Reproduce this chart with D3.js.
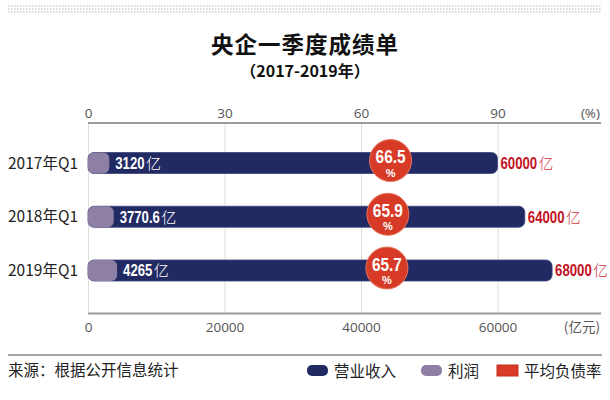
<!DOCTYPE html>
<html>
<head>
<meta charset="utf-8">
<script src="https://cdn.jsdelivr.net/npm/d3@7"></script>
<style>
  html, body { margin: 0; padding: 0; background: #fff; }
  svg { display: block; }
</style>
</head>
<body>
<svg id="chart" width="610" height="400"></svg>
<script>
// ---- data ----
const categories = ["2017年Q1", "2018年Q1", "2019年Q1"];
const revenue = [60000, 64000, 68000];      // 营业收入 (亿元)
const profit = [3120, 3770.6, 4265];        // 利润 (亿元)
const debtRatio = [66.5, 65.9, 65.7];       // 平均负债率 (%)
const valueTicks = [0, 20000, 40000, 60000];
const pctTicks = [0, 30, 60, 90];
const legendItems = ["营业收入", "利润", "平均负债率"];

// ---- style ----
const NAVY = "#222a63", PURPLE = "#8e80a4", RED = "#d73b27", LABEL_RED = "#c3121f";
const CJK = "'Noto Sans CJK SC', 'Noto Sans', sans-serif";
const NUMF = "'Liberation Sans', Arial, sans-serif";
const TICKF = "'Open Sans', 'Noto Sans', sans-serif";

const svg = d3.select("#chart");

// condensed number: text drawn at origin, group scaled horizontally; returns drawn width
function condensedText(parent, tx, ty, str, size, fill, factor, anchor) {
  const g = parent.append("g").attr("transform", `translate(${tx},${ty}) scale(${factor},1)`);
  const t = g.append("text").attr("x", 0).attr("y", 0)
    .attr("text-anchor", anchor || "start")
    .attr("font-family", NUMF).attr("font-weight", 700).attr("font-size", size)
    .attr("fill", fill).text(str);
  return t.node().getComputedTextLength() * factor;
}

// top dotted band
[6, 9, 12].forEach(yy => {
  svg.append("line").attr("x1", 8).attr("x2", 602).attr("y1", yy).attr("y2", yy)
    .attr("stroke", "#b5b5b5").attr("stroke-width", 1.2).attr("stroke-dasharray", "1.5,1.5");
});

// title
svg.append("text").attr("x", 305).attr("y", 53).attr("text-anchor", "middle")
  .attr("font-family", CJK).attr("font-weight", 700).attr("font-size", 22.5)
  .attr("letter-spacing", 1).attr("fill", "#111").text("央企一季度成绩单");
svg.append("text").attr("x", 305).attr("y", 77).attr("text-anchor", "middle")
  .attr("font-family", CJK).attr("font-weight", 700).attr("font-size", 16)
  .attr("fill", "#111").text("（2017-2019年）");

// scales
const x = d3.scaleLinear().domain([0, 60000]).range([88, 497.5]);
const xp = d3.scaleLinear().domain([0, 90]).range([88, 497.5]);
const y = d3.scalePoint().domain(categories).range([163, 270.5]);
const topY = 123, botY = 313.5, lineEnd = 601;
const barH = 21;

// gridlines
const grid = svg.append("g").attr("transform", `translate(0,${botY})`)
  .call(d3.axisBottom(x).tickValues(valueTicks).tickSize(-(botY - topY)).tickFormat(""));
grid.select(".domain").remove();
grid.selectAll(".tick line").attr("stroke", "#dedede").attr("stroke-width", 1);

// top axis (%)
svg.append("line").attr("x1", x(0)).attr("x2", lineEnd).attr("y1", topY).attr("y2", topY)
  .attr("stroke", "#9a9a9a").attr("stroke-width", 2);
const topAxis = svg.append("g").attr("transform", `translate(0,${topY})`)
  .call(d3.axisTop(xp).tickValues(pctTicks).tickSize(0).tickPadding(5).tickFormat(d3.format("d")));
topAxis.select(".domain").remove();
topAxis.selectAll("text").attr("font-family", TICKF).attr("font-size", 13.5).attr("fill", "#555");
svg.append("text").attr("x", 600).attr("y", topY - 5).attr("text-anchor", "end")
  .attr("font-family", TICKF).attr("font-size", 13.5).attr("fill", "#555").text("(%)");

// bottom axis (亿元)
svg.append("line").attr("x1", x(0)).attr("x2", lineEnd).attr("y1", botY).attr("y2", botY)
  .attr("stroke", "#9a9a9a").attr("stroke-width", 2);
const botAxis = svg.append("g").attr("transform", `translate(0,${botY})`)
  .call(d3.axisBottom(x).tickValues(valueTicks).tickSize(0).tickPadding(9).tickFormat(d3.format("d")));
botAxis.select(".domain").remove();
botAxis.selectAll("text").attr("font-family", TICKF).attr("font-size", 13.5).attr("fill", "#555");
svg.append("text").attr("x", 600).attr("y", botY + 18).attr("text-anchor", "end")
  .attr("font-family", CJK).attr("font-size", 13.5).attr("fill", "#555").text("(亿元)");

// rows
const rows = categories.map((c, i) => ({ cat: c, rev: revenue[i], pro: profit[i], pct: debtRatio[i] }));
const row = svg.append("g").selectAll("g.row").data(rows).join("g").attr("class", "row");

// category labels
row.append("text").attr("x", 78).attr("y", d => y(d.cat)).attr("dy", "0.36em")
  .attr("text-anchor", "end").attr("font-family", CJK).attr("font-size", 15.5)
  .attr("fill", "#222").text(d => d.cat);

// revenue bars
row.append("rect").attr("x", x(0)).attr("y", d => y(d.cat) - barH / 2)
  .attr("width", d => x(d.rev) - x(0)).attr("height", barH)
  .attr("rx", 6).attr("ry", 6).attr("fill", NAVY)
  .attr("stroke", "#3b427a").attr("stroke-width", 0.8);

// profit bars
row.append("rect").attr("x", x(0)).attr("y", d => y(d.cat) - barH / 2)
  .attr("width", d => x(d.pro) - x(0)).attr("height", barH)
  .attr("rx", 6).attr("ry", 6).attr("fill", PURPLE);

// profit labels (white, condensed bold number + thin 亿)
row.each(function (d) {
  const r = d3.select(this);
  const x0 = x(d.pro) + 6, base = y(d.cat) + 5.8;
  const w = condensedText(r, x0, base, String(d.pro), 16, "#fff", 0.82);
  r.append("text").attr("x", x0 + w + 1.5).attr("y", base)
    .attr("font-family", CJK).attr("font-weight", 300).attr("font-size", 15)
    .attr("fill", "#fff").text("亿");
});

// revenue labels (red)
row.each(function (d) {
  const r = d3.select(this);
  const x0 = x(d.rev) + 3, base = y(d.cat) + 5.9;
  const w = condensedText(r, x0, base, String(d.rev), 16.5, LABEL_RED, 0.8);
  r.append("text").attr("x", x0 + w + 1.5).attr("y", base)
    .attr("font-family", CJK).attr("font-weight", 300).attr("font-size", 14.5)
    .attr("fill", "#d3303c").text("亿");
});

// debt ratio circles
row.append("circle").attr("cx", d => xp(d.pct)).attr("cy", d => y(d.cat) - 2.5).attr("r", 21)
  .attr("fill", RED).attr("stroke", "#e8755f").attr("stroke-width", 1);
row.each(function (d) {
  const r = d3.select(this);
  const cx = xp(d.pct), cy = y(d.cat) - 2.5;
  condensedText(r, cx, cy + 2.5, d3.format(".1f")(d.pct), 17.5, "#fff", 0.88, "middle");
  r.append("text").attr("x", cx).attr("y", cy + 16).attr("text-anchor", "middle")
    .attr("font-family", NUMF).attr("font-weight", 700).attr("font-size", 11)
    .attr("fill", "#fff").text("%");
});

// separator + source
svg.append("line").attr("x1", 8).attr("x2", 602).attr("y1", 355).attr("y2", 355)
  .attr("stroke", "#8a8a8a").attr("stroke-width", 1.3);
svg.append("text").attr("x", 8).attr("y", 376).attr("font-family", CJK).attr("font-size", 15.5)
  .attr("fill", "#222").text("来源：根据公开信息统计");

// legend
const legendX = [307, 421, 497];
const legendFill = [NAVY, PURPLE, RED];
const legendRx = [5, 5, 0];
const lg = svg.append("g").selectAll("g").data(legendItems).join("g")
  .attr("transform", (d, i) => `translate(${legendX[i]},365)`);
lg.append("rect").attr("width", 21).attr("height", 11)
  .attr("rx", (d, i) => legendRx[i]).attr("fill", (d, i) => legendFill[i])
  .attr("stroke", (d, i) => i === 2 ? "#c2301e" : "none").attr("stroke-width", 1);
lg.append("text").attr("x", 27).attr("y", 11.5).attr("font-family", CJK).attr("font-size", 15.5)
  .attr("fill", "#222").text(d => d);
</script>
</body>
</html>
